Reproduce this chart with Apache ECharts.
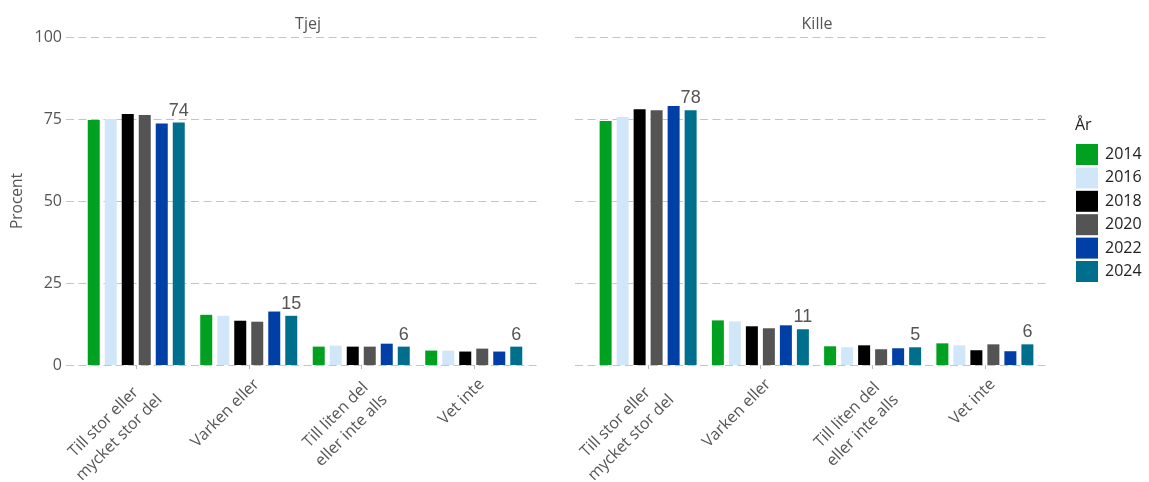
<!DOCTYPE html>
<html><head><meta charset="utf-8">
<script src="https://cdn.jsdelivr.net/npm/echarts@6/dist/echarts.min.js"></script>
<style>html,body{margin:0;padding:0;background:#fff}#c{width:1149px;height:482px}</style>
</head><body><div id="c"></div>
<script>
const categories = ['Till stor eller\nmycket stor del', 'Varken eller', 'Till liten del\neller inte alls', 'Vet inte'];
const years = ['2014', '2016', '2018', '2020', '2022', '2024'];
const panels = ['Tjej', 'Kille'];
const yTicks = [0, 25, 50, 75, 100];
// values per year (rows) for each category (columns)
const tjejValues = [
  [74.7, 15.3, 5.6, 4.4],
  [75.0, 15.0, 5.9, 4.4],
  [76.5, 13.5, 5.6, 4.1],
  [76.2, 13.2, 5.6, 5.0],
  [73.6, 16.3, 6.5, 4.1],
  [73.9, 15.0, 5.6, 5.6]
];
const killeValues = [
  [74.4, 13.6, 5.7, 6.6],
  [75.6, 13.3, 5.4, 6.0],
  [78.0, 11.8, 6.0, 4.5],
  [77.7, 11.2, 4.8, 6.3],
  [79.0, 12.1, 5.1, 4.2],
  [77.7, 10.9, 5.4, 6.3]
];
const colors = ['#00A020', '#D2E6FA', '#000000', '#545454', '#003FA6', '#006F8E'];

const FONT = 'Open Sans';
const txt = '#555555';
const chart = echarts.init(document.getElementById('c'), null, {renderer: 'canvas'});

const gridBase = {top: 37, height: 328, containLabel: false, outerBoundsMode: 'none'};
const grids = [
  Object.assign({left: 66, width: 474}, gridBase),
  Object.assign({left: 575, width: 473}, gridBase),
  Object.assign({left: 80, width: 450}, gridBase),
  Object.assign({left: 592, width: 449}, gridBase)
];
const xAxes = [], yAxes = [];
for (let i = 0; i < 2; i++) {
  xAxes.push({gridIndex: i, type: 'value', min: 0, max: 1, show: false});
  yAxes.push({
    gridIndex: i, type: 'value', min: yTicks[0], max: yTicks[yTicks.length - 1], interval: 25,
    axisLine: {show: false}, axisTick: {show: false},
    axisLabel: {show: i === 0, color: txt, fontFamily: FONT, fontSize: 16, margin: 4},
    splitLine: {show: true, lineStyle: {color: '#C4C4C4', type: [8, 4.5], width: 1}},
    name: i === 0 ? 'Procent' : '', nameLocation: 'middle', nameGap: 40, nameRotate: 90,
    nameTextStyle: {color: txt, fontFamily: FONT, fontSize: 15.5}
  });
}
function catLabel(v) {
  return v.split('\n').map(s => '{a|' + s + '}').join('\n');
}
for (let i = 0; i < 2; i++) {
  xAxes.push({
    gridIndex: 2 + i, type: 'category', data: categories,
    axisLine: {show: false},
    axisTick: {show: true, alignWithLabel: true, length: 4, lineStyle: {color: '#BBBBBB'}},
    axisLabel: {rotate: 45, align: 'right', verticalAlign: 'top', margin: 9,
      color: txt, fontFamily: FONT, fontSize: 16, interval: 0,
      formatter: catLabel,
      rich: {a: {align: 'center', color: txt, fontFamily: FONT, fontSize: 16, lineHeight: 22}}}
  });
  yAxes.push({gridIndex: 2 + i, type: 'value', min: 0, max: 100, show: false});
}

const series = [];
[tjejValues, killeValues].forEach((vals, p) => {
  years.forEach((y, k) => {
    series.push({
      name: y, type: 'bar', xAxisIndex: 2 + p, yAxisIndex: 2 + p,
      data: vals[k], barWidth: 12, barGap: '41.7%',
      itemStyle: {color: colors[k]},
      label: k === years.length - 1 ? {
        show: true, position: 'top', distance: 3, color: txt,
        fontFamily: 'Liberation Sans', fontSize: 18,
        formatter: d => Math.round(d.value)
      } : {show: false}
    });
  });
});

chart.setOption({
  animation: false,
  title: [
    {text: panels[0], left: 303, top: 11, textAlign: 'center', textStyle: {color: txt, fontFamily: FONT, fontSize: 16, fontWeight: 'normal'}},
    {text: panels[1], left: 812, top: 11, textAlign: 'center', textStyle: {color: txt, fontFamily: FONT, fontSize: 16, fontWeight: 'normal'}},
    {text: 'År', left: 1070, top: 112, textStyle: {color: '#222', fontFamily: FONT, fontSize: 16, fontWeight: 'normal'}}
  ],
  legend: {
    orient: 'vertical', left: 1076, top: 144, data: years, padding: 0,
    icon: 'rect', itemWidth: 22, itemHeight: 21, itemGap: 2.4,
    textStyle: {color: '#222', fontFamily: FONT, fontSize: 16, padding: [0, 0, 0, 2]},
    selectedMode: false
  },
  grid: grids, xAxis: xAxes, yAxis: yAxes, series: series
});
</script></body></html>
